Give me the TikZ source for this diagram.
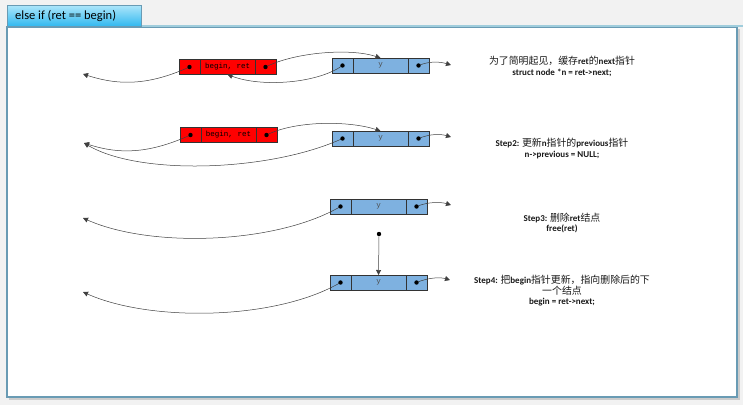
\documentclass[tikz,border=0pt]{standalone}
\usepackage{fontspec}
\setmainfont{Carlito}
\newfontfamily\cjk[Scale=1.1]{Noto Sans CJK SC}
\newfontfamily\cellfont{Liberation Mono}
\usetikzlibrary{positioning,arrows.meta}
\definecolor{bggray}{RGB}{242,242,242}
\definecolor{framecol}{RGB}{105,155,180}
\definecolor{tabline}{RGB}{160,205,220}
\definecolor{tabtop}{RGB}{175,230,250}
\definecolor{tabbot}{RGB}{50,185,240}
\definecolor{nodered}{RGB}{255,0,0}
\definecolor{nodeblue}{RGB}{126,177,224}
\begin{document}
\begin{tikzpicture}[x=1pt,y=-1pt,
		cell/.style={draw=black!80, line width=0.6pt, minimum height=15pt, inner sep=0pt, outer sep=0pt, font=\cellfont\fontsize{7.5}{8}\selectfont},
		ptr/.style={cell, minimum width=21pt},
		dat/.style={cell, minimum width=55pt},
		link/.style={draw=black!75, line width=0.5pt, -{Triangle[length=5pt,width=5pt]}},
		dot/.style={circle, fill=black, inner sep=0pt, minimum size=4.4pt},
		note/.style={align=center, text=black!90, font=\bfseries\fontsize{9}{10.5}\selectfont}]
	\fill[bggray] (0,0) rectangle (743,405);
	\useasboundingbox (0,0) rectangle (743,405);
	% frame and tab
	\fill[black!20] (9,29) rectangle (740,400);
	\draw[framecol, fill=white, line width=1.2pt] (7,27) rectangle (737,397);
	\draw[tabline, line width=2pt] (141,26) -- (743,26);
	\draw[framecol, top color=tabtop, bottom color=tabbot] (7,5) rectangle (141,26);
	\node[anchor=west, inner sep=0pt, font=\fontsize{12.5}{14}\selectfont] (title) at (15,15.5) {else if (ret == begin)};

	% row 1
	\node[ptr, fill=nodered, anchor=west] (r1p) at (179,67) {};
	\node[dat, fill=nodered, right=0pt of r1p] (r1d) {begin, ret};
	\node[ptr, fill=nodered, right=0pt of r1d] (r1n) {};
	\node[ptr, fill=nodeblue, anchor=west] (b1p) at (332,65.5) {};
	\node[dat, fill=nodeblue, right=0pt of b1p, text=black!70] (b1d) {y};
	\node[ptr, fill=nodeblue, right=0pt of b1d] (b1n) {};
	\coordinate (e1) at (83,74);
	\coordinate (n1) at (451,65);
	\draw[link] (r1p.center) .. controls +(-40,18) and +(37,12) .. (e1);
	\draw[link] (r1n.center) .. controls +(30,-15) and +(-30,-10) .. (b1d.north);
	\draw[link] (b1p.center) .. controls +(-25,18) and +(34,13) .. (r1d.south);
	\draw[link] (b1n.center) .. controls +(12,-5) and +(-10,-3) .. (n1);
	\node[note] (s1) at (562,66.5) {{\cjk\mdseries 为了简明起见，缓存}ret{\cjk\mdseries 的}next{\cjk\mdseries 指针}\\struct node *n = ret->next;};

	% row 2
	\node[ptr, fill=nodered, anchor=west] (r2p) at (180,135) {};
	\node[dat, fill=nodered, right=0pt of r2p] (r2d) {begin, ret};
	\node[ptr, fill=nodered, right=0pt of r2d] (r2n) {};
	\node[ptr, fill=nodeblue, anchor=west] (b2p) at (332,138.5) {};
	\node[dat, fill=nodeblue, right=0pt of b2p, text=black!70] (b2d) {y};
	\node[ptr, fill=nodeblue, right=0pt of b2d] (b2n) {};
	\coordinate (e2) at (84,143);
	\coordinate (n2) at (451,137);
	\draw[link] (r2p.center) .. controls +(-40,18) and +(37,12) .. (e2);
	\draw[link] (r2n.center) .. controls +(30,-15) and +(-30,-10) .. (b2d.north);
	\draw[link] (b2p.center) .. controls +(-72,33) and +(56,33) .. (e2);
	\draw[link] (b2n.center) .. controls +(12,-5) and +(-10,-3) .. (n2);
	\node[note] (s2) at (562,148.5) {Step2: {\cjk\mdseries 更新}n{\cjk\mdseries 指针的}previous{\cjk\mdseries 指针}\\n->previous = NULL;};

	% row 3
	\node[ptr, fill=nodeblue, anchor=west] (b3p) at (330,206.5) {};
	\node[dat, fill=nodeblue, right=0pt of b3p, text=black!70] (b3d) {y};
	\node[ptr, fill=nodeblue, right=0pt of b3d] (b3n) {};
	\coordinate (e3) at (83,218);
	\coordinate (n3) at (451,205);
	\draw[link] (b3p.center) .. controls +(-65,38) and +(67,30) .. (e3);
	\draw[link] (b3n.center) .. controls +(12,-5) and +(-10,-3) .. (n3);
	\node[dot] (fr) at (379,234) {};
	\node[note] (s3) at (562,223) {Step3: {\cjk\mdseries 删除}ret{\cjk\mdseries 结点}\\free(ret)};

	% row 4
	\node[ptr, fill=nodeblue, anchor=west] (b4p) at (330,282.5) {};
	\node[dat, fill=nodeblue, right=0pt of b4p, text=black!70] (b4d) {y};
	\node[ptr, fill=nodeblue, right=0pt of b4d] (b4n) {};
	\coordinate (e4) at (83,292);
	\coordinate (n4) at (450,280);
	\draw[link] (b4p.center) .. controls +(-65,38) and +(67,30) .. (e4);
	\draw[link] (b4n.center) .. controls +(12,-5) and +(-10,-3) .. (n4);
	\draw[link] (fr) -- (b4d.north);
	\node[note] (s4) at (562,291) {Step4: {\cjk\mdseries 把}begin{\cjk\mdseries 指针更新，指向删除后的下}\\{\cjk\mdseries 一个结点}\\begin = ret->next;};

	% pointer dots
	\foreach \c in {r1p,r1n,b1p,b1n,r2p,r2n,b2p,b2n,b3p,b3n,b4p,b4n}
		\fill (\c.center) circle (2.2pt);
\end{tikzpicture}
\end{document}
